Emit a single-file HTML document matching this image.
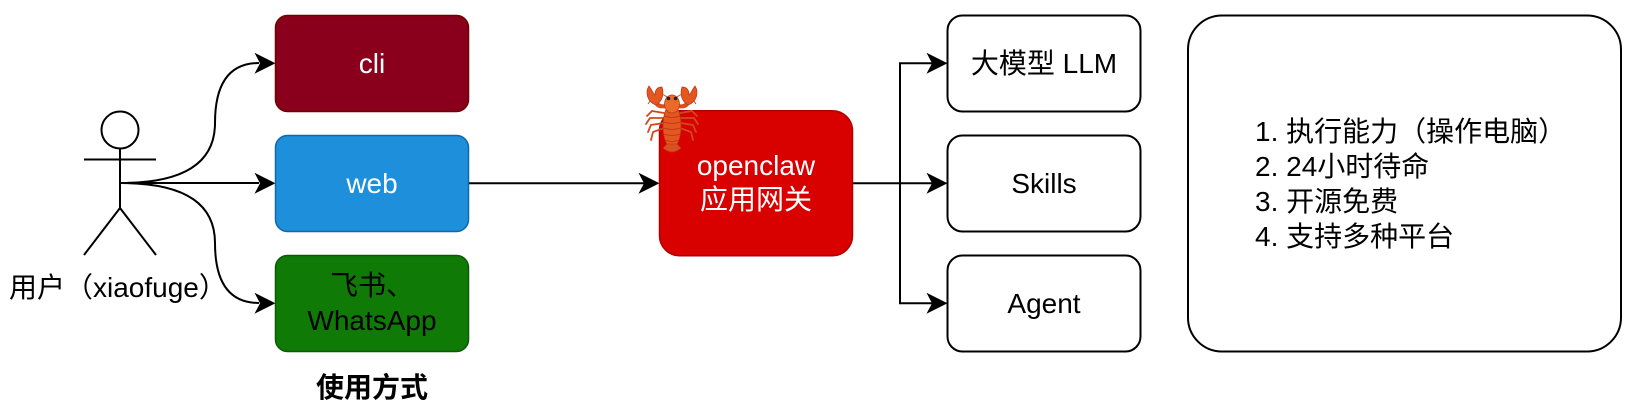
<!DOCTYPE html>
<html>
<head>
<meta charset="utf-8">
<style>
  html,body{margin:0;padding:0;background:#fff;}
  svg{display:block;}
  text{font-family:"Liberation Sans","Noto Sans CJK SC",sans-serif;font-size:28px;}
</style>
</head>
<body>
<svg width="1628" height="408" viewBox="0 0 1628 408" xmlns="http://www.w3.org/2000/svg">
  <defs>
    <path id="ah" d="M0,0 L-21,-10.5 L-15.5,0 L-21,10.5 Z" fill="#000"/>
  </defs>

  <!-- Stick figure -->
  <g stroke="#000" stroke-width="2" fill="none">
    <circle cx="120" cy="130" r="18.5" fill="#fff"/>
    <line x1="120" y1="148.5" x2="120" y2="208"/>
    <line x1="84" y1="159.5" x2="156" y2="159.5"/>
    <line x1="120" y1="208" x2="84" y2="255"/>
    <line x1="120" y1="208" x2="156" y2="255"/>
  </g>
  <text x="9" y="297">用户（xiaofuge）</text>

  <!-- Connectors from user -->
  <g stroke="#000" stroke-width="2" fill="none">
    <path d="M121,183 Q215,183 215,123 Q215,63 259,63"/>
    <path d="M121,183 L259,183"/>
    <path d="M121,183 Q215,183 215,243 Q215,303 259,303"/>
  </g>
  <use href="#ah" x="275.5" y="63.3"/>
  <use href="#ah" x="275.5" y="183.3"/>
  <use href="#ah" x="275.5" y="303.3"/>

  <!-- Left boxes -->
  <rect x="275.5" y="15.5" width="193" height="96" rx="12" ry="12" fill="#8A001C" stroke="#6F0000" stroke-width="1.5"/>
  <text x="372" y="73" text-anchor="middle" fill="#fff">cli</text>

  <rect x="275.5" y="135.5" width="193" height="96" rx="12" ry="12" fill="#1E8FDB" stroke="#0E68AA" stroke-width="1.5"/>
  <text x="372" y="193" text-anchor="middle" fill="#fff">web</text>

  <rect x="275.5" y="255.5" width="193" height="96" rx="12" ry="12" fill="#107A07" stroke="#0A5A04" stroke-width="1.5"/>
  <text x="372" y="295" text-anchor="middle" fill="#000">飞书、</text>
  <text x="372" y="330" text-anchor="middle" fill="#000">WhatsApp</text>

  <text x="372" y="397" text-anchor="middle" font-weight="bold">使用方式</text>

  <!-- web -> openclaw -->
  <line x1="469" y1="183.3" x2="645" y2="183.3" stroke="#000" stroke-width="2"/>
  <use href="#ah" x="659.5" y="183.3"/>

  <!-- openclaw box -->
  <rect x="659.5" y="110.7" width="193" height="145" rx="20" ry="20" fill="#D90000" stroke="#B20000" stroke-width="1.5"/>
  <text x="756" y="175" text-anchor="middle" fill="#fff">openclaw</text>
  <text x="756" y="209" text-anchor="middle" fill="#fff">应用网关</text>

  <!-- Lobster -->
  <g>
    <!-- antennae -->
    <path d="M668,98 Q658,88 648,104" stroke="#C8401A" stroke-width="0.9" fill="none"/>
    <path d="M676,98 Q686,88 696,104" stroke="#C8401A" stroke-width="0.9" fill="none"/>
    <!-- legs -->
    <g stroke="#D2481C" stroke-width="1.8" fill="none" stroke-linecap="round">
      <path d="M664,113 L652,111 L647,116"/>
      <path d="M664,118 L650,118 L646,124"/>
      <path d="M664,123 L651,125 L648,132"/>
      <path d="M664,128 L653,132 L651,140"/>
      <path d="M680,113 L692,111 L697,116"/>
      <path d="M680,118 L694,118 L698,124"/>
      <path d="M680,123 L693,125 L696,132"/>
      <path d="M680,128 L691,132 L693,140"/>
    </g>
    <!-- arms -->
    <path d="M666,106 Q657,108 655,100" stroke="#D9501E" stroke-width="4" fill="none"/>
    <path d="M678,106 Q687,108 689,100" stroke="#D9501E" stroke-width="4" fill="none"/>
    <!-- claws -->
    <path d="M656,105 C647,102 645,92 649,86 C652,90 653,93 655,95 C655,90 657,87 662,87 C664,93 663,101 656,105 Z" fill="#E4571F" stroke="#B8361A" stroke-width="0.7"/>
    <path d="M688,105 C697,102 699,92 695,86 C692,90 691,93 689,95 C689,90 687,87 682,87 C680,93 681,101 688,105 Z" fill="#E4571F" stroke="#B8361A" stroke-width="0.7"/>
    <!-- body -->
    <ellipse cx="672" cy="126" rx="9" ry="22" fill="#E4571F" stroke="#B8361A" stroke-width="0.7"/>
    <ellipse cx="672" cy="104" rx="7.5" ry="9" fill="#EA6A2A" stroke="#B8361A" stroke-width="0.7"/>
    <path d="M663,148 Q672,156 681,148 L677,144 L667,144 Z" fill="#D9501E" stroke="#B8361A" stroke-width="0.6"/>
    <g stroke="#B8361A" stroke-width="0.8" fill="none">
      <path d="M664,116 Q672,119 680,116"/>
      <path d="M663.5,122 Q672,125 680.5,122"/>
      <path d="M663.5,128 Q672,131 680.5,128"/>
      <path d="M664,134 Q672,137 680,134"/>
      <path d="M665.5,140 Q672,143 678.5,140"/>
    </g>
    <circle cx="668.5" cy="98.5" r="1.8" fill="#222"/>
    <circle cx="675.5" cy="98.5" r="1.8" fill="#222"/>
  </g>

  <!-- openclaw -> right boxes -->
  <g stroke="#000" stroke-width="2" fill="none">
    <line x1="853" y1="183.3" x2="932" y2="183.3"/>
    <path d="M932,63.3 L900,63.3 L900,303.3 L932,303.3"/>
  </g>
  <use href="#ah" x="947.5" y="63.3"/>
  <use href="#ah" x="947.5" y="183.3"/>
  <use href="#ah" x="947.5" y="303.3"/>

  <!-- Right boxes -->
  <g fill="#fff" stroke="#000" stroke-width="2">
    <rect x="947.5" y="15.5" width="193" height="96" rx="15" ry="15"/>
    <rect x="947.5" y="135.5" width="193" height="96" rx="15" ry="15"/>
    <rect x="947.5" y="255.5" width="193" height="96" rx="15" ry="15"/>
  </g>
  <text x="1044" y="73" text-anchor="middle">大模型 LLM</text>
  <text x="1044" y="193" text-anchor="middle">Skills</text>
  <text x="1044" y="313" text-anchor="middle">Agent</text>

  <!-- Features box -->
  <rect x="1188" y="15.5" width="433" height="336" rx="34" ry="34" fill="#fff" stroke="#000" stroke-width="2"/>
  <text x="1255" y="141">1. 执行能力（操作电脑）</text>
  <text x="1255" y="176">2. 24小时待命</text>
  <text x="1255" y="211">3. 开源免费</text>
  <text x="1255" y="246">4. 支持多种平台</text>
</svg>
</body>
</html>
